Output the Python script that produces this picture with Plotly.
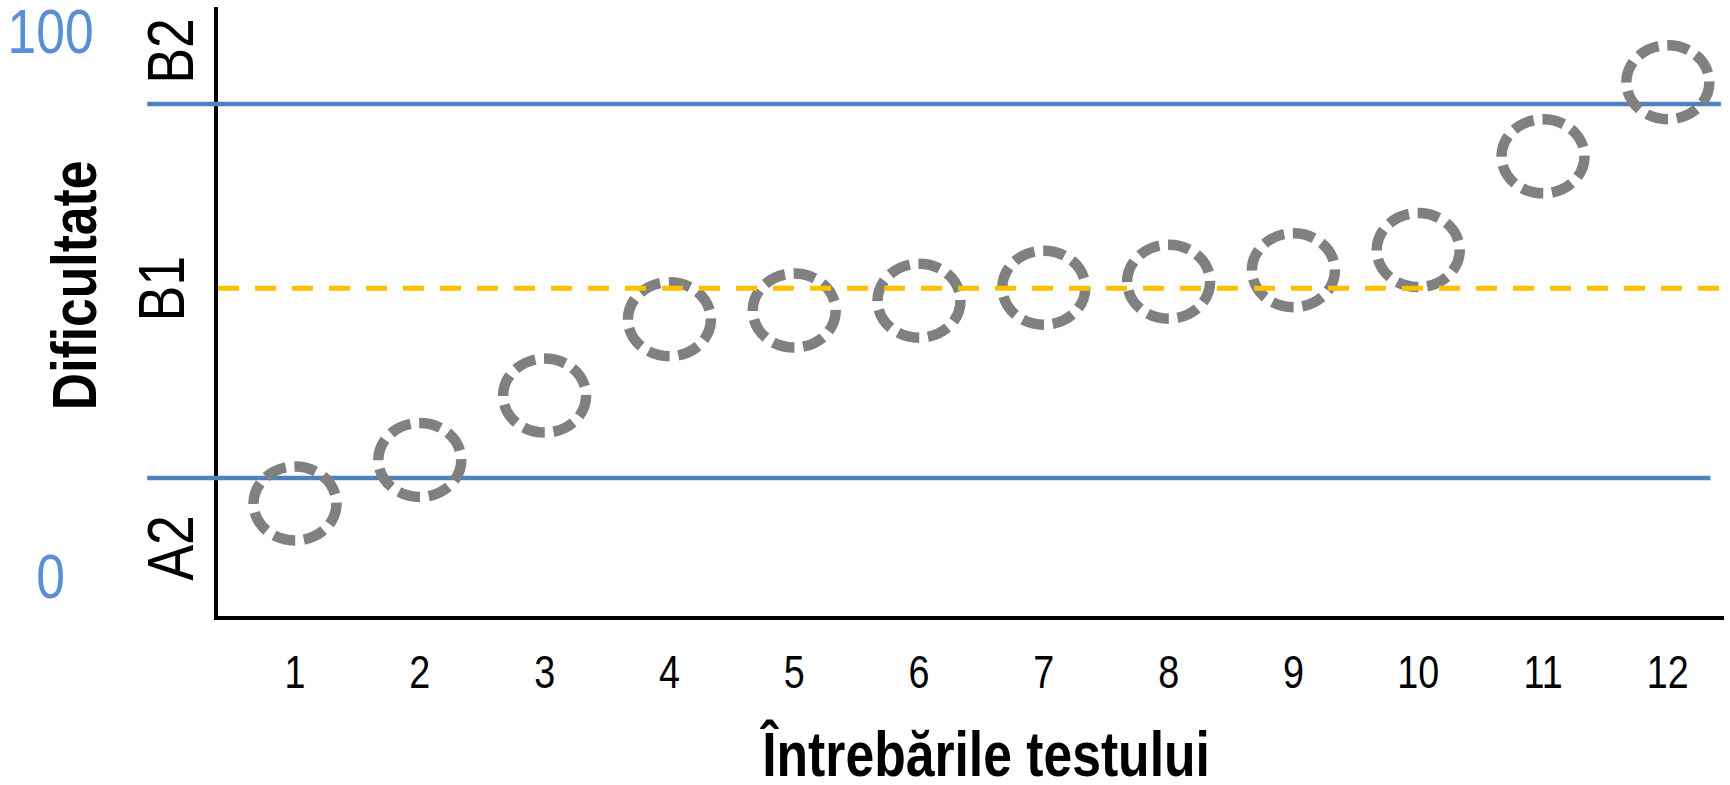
import plotly.graph_objects as go

# data
questions = list(range(1, 13))
difficulty = [13.3, 21.3, 33.1, 47.1, 48.7, 50.5, 52.9, 54.0, 56.1, 59.8, 77.0, 90.6]
x_tick_text = [str(q) for q in questions]

y_tick_vals = [0, 100]
y_tick_text = ["0", "100"]

level_names = ["A2", "B1", "B2"]
level_bounds = [18.0, 52.8, 86.6]   # A2 upper / B1 middle / B2 lower lines

FONT = "Liberation Sans, Arial, sans-serif"
BLUE = "#4F81BD"
LABEL_BLUE = "#5A8ED6"
GRAY = "#808080"
ORANGE = "#FFC000"


def font(size, color="black", bold=False):
    return dict(family=FONT, size=size, color=color,
                weight="bold" if bold else "normal")


fig = go.Figure()

# invisible trace so the axes carry the data (hover too)
fig.add_trace(go.Scatter(x=questions, y=difficulty, mode="markers",
                         marker=dict(size=40, opacity=0), hoverinfo="x+y",
                         showlegend=False))

# solid blue level lines (A2 and B2), they stick out left of the y axis
fig.add_shape(type="line", xref="paper", yref="y", x0=-0.047, x1=0.991,
              y0=level_bounds[0], y1=level_bounds[0],
              line=dict(color=BLUE, width=4.5))
fig.add_shape(type="line", xref="paper", yref="y", x0=-0.047, x1=0.998,
              y0=level_bounds[2], y1=level_bounds[2],
              line=dict(color=BLUE, width=4.5))

# dashed grey ellipses = the questions
for q, d in zip(questions, difficulty):
    fig.add_shape(type="circle", xref="x", yref="y",
                  xsizemode="pixel", ysizemode="pixel",
                  xanchor=q, yanchor=d,
                  x0=-41.5, x1=41.5, y0=-37, y1=37,
                  line=dict(color=GRAY, width=10.5, dash="22px,8.7px"))

# orange dashed B1 line on top
fig.add_shape(type="line", xref="paper", yref="y", x0=0, x1=1,
              y0=level_bounds[1], y1=level_bounds[1],
              line=dict(color=ORANGE, width=5, dash="21px,16px"))

# blue 0 / 100 labels on the far left
for v, t in zip(y_tick_vals, y_tick_text):
    fig.add_annotation(x=-0.111, xref="paper", y=v, yref="y", text=t,
                       showarrow=False, xanchor="center", yanchor="middle",
                       font=font(63, LABEL_BLUE))

# level names, rotated
level_label_pos = [(-0.0312, 5.2), (-0.0375, 52.7), (-0.0315, 96.3)]
for name, (px, yv) in zip(level_names, level_label_pos):
    fig.add_annotation(x=px, xref="paper", y=yv, yref="y", text=name,
                       textangle=-90, showarrow=False,
                       xanchor="center", yanchor="middle",
                       font=font(65))

fig.add_annotation(x=-0.0959, xref="paper", y=0.5435, yref="paper",
                   text="Dificultate", textangle=-90, showarrow=False,
                   xanchor="center", yanchor="middle",
                   font=font(63, bold=True))

fig.add_annotation(x=0.509, xref="paper", y=-0.2258, yref="paper",
                   text="Întrebările testului", showarrow=False,
                   xanchor="center", yanchor="middle",
                   font=font(63, bold=True))

fig.update_xaxes(range=[0.383, 12.45], tickvals=questions, ticktext=x_tick_text,
                 showgrid=False, zeroline=False, ticks="",
                 showline=True, linecolor="black", linewidth=4,
                 ticklabelstandoff=13, tickfont=font(46))
fig.update_yaxes(range=[-7.34, 104.4], showticklabels=False, showgrid=False,
                 zeroline=False, ticks="",
                 showline=True, linecolor="black", linewidth=4)

fig.update_layout(width=1730, height=785,
                  margin=dict(l=218, r=6, t=7, b=169),
                  plot_bgcolor="white", paper_bgcolor="white",
                  showlegend=False)

# no narrow Arial here: squeeze Liberation Sans horizontally instead,
# and drop the default 8px body margin so the figure fills the window
post = """
document.body.style.margin = '0';
var gd = document.getElementById('{plot_id}');
var SX = 0.82;
function squeeze() {
  gd.querySelectorAll('text.annotation-text, g.xtick text').forEach(function (t) {
    var x = parseFloat(t.getAttribute('x')) || 0;
    var tag = ' translate(' + x + ',0) scale(';
    var base = (t.getAttribute('transform') || '').split(tag)[0];
    t.setAttribute('transform', base + tag + SX + ',1) translate(' + (-x) + ',0)');
  });
}
squeeze();
gd.on('plotly_afterplot', squeeze);
setTimeout(squeeze, 200);
"""

fig.write_html("out.html", post_script=post, config={"displayModeBar": False})
